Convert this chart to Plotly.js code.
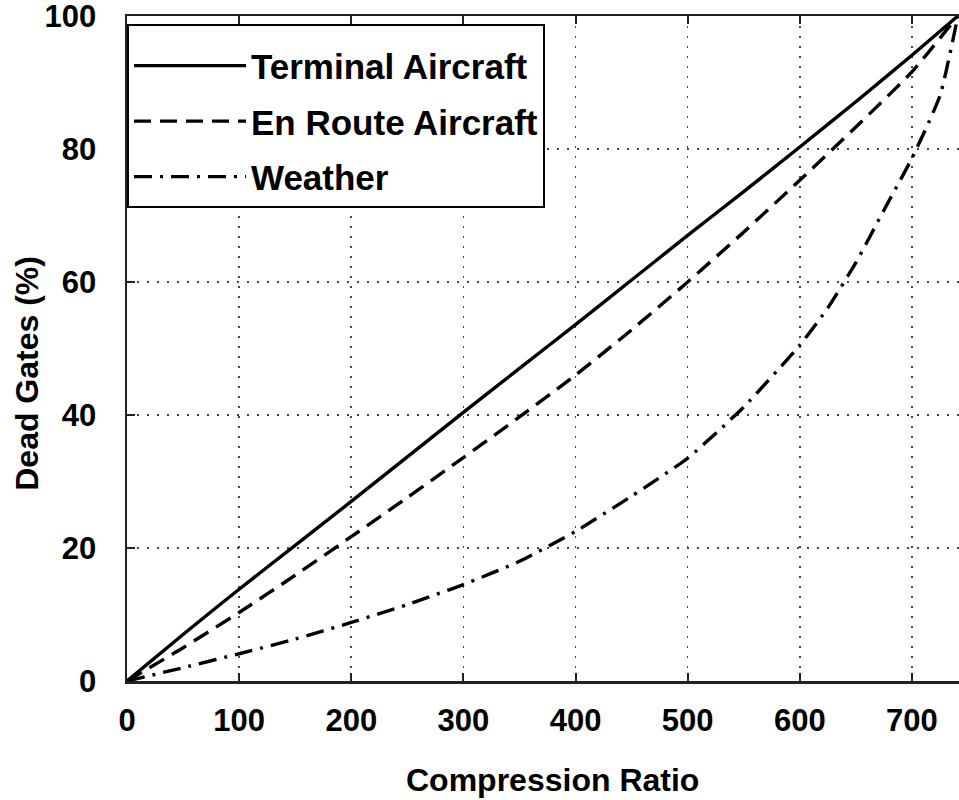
<!DOCTYPE html>
<html>
<head>
<meta charset="utf-8">
<script src="https://cdn.plot.ly/plotly-3.0.1.min.js"></script>
<style>
html, body { margin: 0; padding: 0; background: #ffffff; overflow: hidden; }
#chart { width: 959px; height: 800px; }
</style>
</head>
<body>
<div id="chart"></div>
<script>
// ---- data ----
var seriesNames = ["Terminal Aircraft", "En Route Aircraft", "Weather"];

var terminalX = [0, 50, 100, 150, 200, 250, 300, 350, 400, 450, 500, 550, 600, 650, 700, 741];
var terminalY = [0, 7.0, 13.8, 20.4, 27.0, 33.7, 40.4, 47.0, 53.6, 60.3, 67.0, 73.6, 80.3, 87.1, 94.1, 100];

var enrouteX = [0, 50, 100, 150, 200, 250, 300, 350, 400, 450, 500, 550, 600, 650, 700, 741];
var enrouteY = [0, 5.0, 10.3, 15.9, 21.7, 27.6, 33.6, 39.7, 46.0, 52.8, 60.0, 67.5, 75.3, 83.3, 91.6, 100];

var weatherX = [0, 50, 100, 150, 200, 250, 300, 350, 400, 450, 500, 550, 600, 625, 650, 675, 700, 725, 741];
var weatherY = [0, 2.0, 4.1, 6.3, 8.8, 11.5, 14.5, 18.0, 22.5, 27.8, 33.5, 41.2, 50.5, 56.1, 62.9, 70.8, 78.6, 88.0, 100];

var xTicks = [0, 100, 200, 300, 400, 500, 600, 700];
var yTicks = [0, 20, 40, 60, 80, 100];

var xTitle = "Compression Ratio";
var yTitle = "Dead Gates (%)";

// ---- styling ----
var FONT = "Liberation Sans, Arial, Helvetica, sans-serif";
var INK = "#000000";

function mk(name, xs, ys, dash, group) {
  return {
    type: "scatter", mode: "lines", name: name, x: xs, y: ys,
    legendgroup: group,
    line: { color: INK, width: 3.4, dash: dash, shape: "spline", smoothing: 0.5 },
    hoverinfo: "x+y+name"
  };
}

var traces = [
  mk(seriesNames[0], terminalX, terminalY, "solid", "g1"),
  mk(seriesNames[1], enrouteX, enrouteY, "17px,9px", "g2"),
  mk(seriesNames[2], weatherX, weatherY, "18px,8px,3px,8px", "g3")
];

var axisCommon = {
  showline: true, linecolor: "#222", linewidth: 2.5,
  ticks: "inside", ticklen: 8, tickwidth: 2, tickcolor: "#222",
  showgrid: true, gridcolor: "#444", gridwidth: 1.6, griddash: "2px,8px",
  zeroline: false, ticklabeloverflow: "allow",
  tickfont: { family: FONT, size: 31, color: INK, weight: "bold" }
};

var layout = {
  width: 959, height: 800,
  paper_bgcolor: "#ffffff", plot_bgcolor: "#ffffff",
  margin: { l: 127, r: 0, t: 16, b: 119 },
  showlegend: true,
  legend: {
    x: 0, y: 0.988, xanchor: "left", yanchor: "top",
    bgcolor: "#ffffff", bordercolor: INK, borderwidth: 2,
    font: { family: FONT, size: 35, color: INK, weight: "bold" },
    title: { text: " ", font: { family: FONT, size: 8 } },
    traceorder: "grouped", tracegroupgap: 7, itemwidth: 112,
    entrywidth: 300, entrywidthmode: "pixels"
  },
  xaxis: Object.assign({}, axisCommon, {
    range: [0, 742], tickvals: xTicks, ticktext: xTicks.map(String),
    mirror: "ticks", ticklabelstandoff: 10
  }),
  yaxis: Object.assign({}, axisCommon, {
    range: [0, 100], tickvals: yTicks, ticktext: yTicks.map(String),
    mirror: false, ticklabelstandoff: 22
  }),
  annotations: [
    { text: xTitle, xref: "paper", yref: "paper", x: 0.511, y: 0, xanchor: "center", yanchor: "middle",
      yshift: -99, showarrow: false, font: { family: FONT, size: 32, color: INK, weight: "bold" } },
    { text: yTitle, xref: "paper", yref: "paper", x: 0, y: 0.462, xanchor: "center", yanchor: "middle",
      xshift: -100, textangle: -90, showarrow: false, font: { family: FONT, size: 32, color: INK, weight: "bold" } }
  ]
};

Plotly.newPlot("chart", traces, layout, { displayModeBar: false, staticPlot: true });
</script>
</body>
</html>
